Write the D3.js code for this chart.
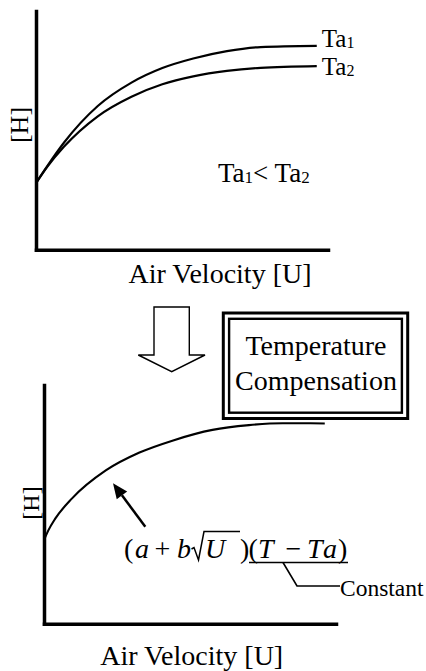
<!DOCTYPE html>
<html>
<head>
<meta charset="utf-8">
<script src="https://cdn.jsdelivr.net/npm/d3@7/dist/d3.min.js"></script>
<style>
  html, body { margin: 0; padding: 0; background: #fff; }
  svg { display: block; }
  text { font-family: "Liberation Serif", "Times New Roman", serif; fill: #000; }
</style>
</head>
<body>
<svg id="chart" width="426" height="671"></svg>
<script>
// Heat transfer [H] versus air velocity [U] at two ambient temperatures
const velocity = [0, 0.4, 1, 2.2, 3.4, 4.5, 5.6, 6.8, 8, 10];
const heatTa1  = [2.79, 3.5, 4.49, 6.02, 7.0, 7.61, 8.01, 8.32, 8.49, 8.54];
const heatTa2  = [2.79, 3.47, 4.32, 5.59, 6.41, 6.93, 7.26, 7.49, 7.62, 7.69];
const seriesNames = ["Ta1", "Ta2"];

// Single curve after temperature compensation
const compVelocity = [0, 0.15, 0.4, 1, 2.2, 3.4, 4.6, 6, 7.3, 8.5, 10];
const compHeat     = [3.5, 3.9, 4.4, 5.25, 6.42, 7.17, 7.68, 8.12, 8.32, 8.4, 8.39];

const axisLabelX = "Air Velocity [U]";
const axisLabelY = "[H]";
const boxLines = ["Temperature", "Compensation"];
const constantLabel = "Constant";

const svg = d3.select("#chart");

function drawAxes(g, x, y) {
  g.append("g")
    .attr("transform", `translate(${x.range()[0]},0)`)
    .call(d3.axisLeft(y).tickValues([]).tickSizeOuter(0))
    .select(".domain")
    .attr("stroke", "#000").attr("stroke-width", 3.5).attr("stroke-linecap", "square");
  g.append("g")
    .attr("transform", `translate(0,${y.range()[0]})`)
    .call(d3.axisBottom(x).tickValues([]).tickSizeOuter(0))
    .select(".domain")
    .attr("stroke", "#000").attr("stroke-width", 3.5).attr("stroke-linecap", "square");
}

// ---------- Upper panel ----------
const x1 = d3.scaleLinear().domain([0, 10.4]).range([36, 328]);
const y1 = d3.scaleLinear().domain([0, 10]).range([249.7, 11]);
const upper = svg.append("g");
drawAxes(upper, x1, y1);

const line1 = d3.line().x(d => x1(d[0])).y(d => y1(d[1])).curve(d3.curveMonotoneX);
[heatTa1, heatTa2].forEach(vals => {
  upper.append("path")
    .datum(velocity.map((u, i) => [u, vals[i]]))
    .attr("d", line1)
    .attr("fill", "none").attr("stroke", "#000").attr("stroke-width", 2.2);
});

// series labels with subscripts
const labelBaselines = [46.5, 74.5];
seriesNames.forEach((name, i) => {
  const t = upper.append("text")
    .attr("x", x1(velocity[velocity.length - 1]) + 5)
    .attr("y", labelBaselines[i])
    .attr("font-size", 25);
  t.append("tspan").text(name.slice(0, 2));
  t.append("tspan").attr("font-size", 16).attr("dy", 1.5).text(name.slice(2));
});

// relation between the two ambient temperatures
const rel = upper.append("text").attr("x", 218).attr("y", 182).attr("font-size", 27);
rel.append("tspan").text("Ta");
rel.append("tspan").attr("font-size", 17).attr("dy", 1).text("1");
rel.append("tspan").attr("dy", -1).text("< Ta");
rel.append("tspan").attr("font-size", 17).attr("dy", 1).text("2");

upper.append("text")
  .attr("transform", "translate(28,125) rotate(-90)")
  .attr("text-anchor", "middle").attr("font-size", 26)
  .text(axisLabelY);
upper.append("text")
  .attr("x", 220).attr("y", 283)
  .attr("text-anchor", "middle").attr("font-size", 28)
  .text(axisLabelX);

// ---------- Hollow downward arrow ----------
svg.append("polygon")
  .attr("points", [[154, 307], [189.3, 307], [189.3, 355], [205, 355], [171.7, 371.7], [138.3, 355], [154, 355]].join(" "))
  .attr("fill", "#fff").attr("stroke", "#000").attr("stroke-width", 1.4);

// ---------- Double-framed title box ----------
const frame = { x: 223.3, y: 313, w: 184.4, h: 105.5, inset: 5.8 };
svg.append("rect")
  .attr("x", frame.x).attr("y", frame.y).attr("width", frame.w).attr("height", frame.h)
  .attr("fill", "#fff").attr("stroke", "#000").attr("stroke-width", 3);
svg.append("rect")
  .attr("x", frame.x + frame.inset).attr("y", frame.y + frame.inset)
  .attr("width", frame.w - 2 * frame.inset).attr("height", frame.h - 2 * frame.inset)
  .attr("fill", "none").attr("stroke", "#000").attr("stroke-width", 2.4);
boxLines.forEach((s, i) => {
  svg.append("text")
    .attr("x", 316).attr("y", 355 + i * 35)
    .attr("text-anchor", "middle").attr("font-size", 28)
    .text(s);
});

// ---------- Lower panel ----------
const x2 = d3.scaleLinear().domain([0, 10.4]).range([44, 336]);
const y2 = d3.scaleLinear().domain([0, 10]).range([623.7, 385]);
const lower = svg.append("g");
drawAxes(lower, x2, y2);

const line2 = d3.line().x(d => x2(d[0])).y(d => y2(d[1])).curve(d3.curveMonotoneX);
lower.append("path")
  .datum(compVelocity.map((u, i) => [u, compHeat[i]]))
  .attr("d", line2)
  .attr("fill", "none").attr("stroke", "#000").attr("stroke-width", 2.1);

lower.append("text")
  .attr("transform", "translate(39,503) rotate(-90)")
  .attr("text-anchor", "middle").attr("font-size", 24)
  .text(axisLabelY);
lower.append("text")
  .attr("x", 191.7).attr("y", 665)
  .attr("text-anchor", "middle").attr("font-size", 28)
  .text(axisLabelX);

// pointer arrow toward the compensated curve
const tail = [145.3, 526.7], tip = [113, 483.3];
const adx = tip[0] - tail[0], ady = tip[1] - tail[1];
const alen = Math.hypot(adx, ady), ux = adx / alen, uy = ady / alen;
const headLen = 15, headHalf = 6.5;
const headBase = [tip[0] - ux * headLen, tip[1] - uy * headLen];
lower.append("line")
  .attr("x1", tail[0]).attr("y1", tail[1]).attr("x2", headBase[0]).attr("y2", headBase[1])
  .attr("stroke", "#000").attr("stroke-width", 2.5);
lower.append("polygon")
  .attr("points", [tip,
    [headBase[0] - uy * headHalf, headBase[1] + ux * headHalf],
    [headBase[0] + uy * headHalf, headBase[1] - ux * headHalf]].join(" "))
  .attr("fill", "#000");

// compensation formula (a + b√U)(T − Ta)
const formulaBaseline = 558;
const glyphs = [
  { s: "(", x: 124, it: false },
  { s: "a", x: 135, it: true },
  { s: "+", x: 154.5, it: false },
  { s: "b", x: 177, it: true },
  { s: "U", x: 205, it: true },
  { s: ")", x: 240, it: false },
  { s: "(", x: 248.5, it: false },
  { s: "T", x: 258, it: true },
  { s: "\u2212", x: 285.5, it: false },
  { s: "T", x: 307, it: true },
  { s: "a", x: 323, it: true },
  { s: ")", x: 338, it: false }
];
glyphs.forEach(g => {
  lower.append("text")
    .attr("x", g.x).attr("y", formulaBaseline)
    .attr("font-size", 28)
    .attr("font-style", g.it ? "italic" : "normal")
    .text(g.s);
});
// radical sign with its bar over U
lower.append("path")
  .attr("d", "M191.5,549 L194,547.5 L198.5,560 L204,531.5 L240,531.5")
  .attr("fill", "none").attr("stroke", "#000").attr("stroke-width", 1.5)
  .attr("stroke-linejoin", "miter");

// underline of (T − Ta) and leader to the "Constant" note
lower.append("line")
  .attr("x1", 249).attr("y1", 562.5).attr("x2", 348).attr("y2", 562.5)
  .attr("stroke", "#000").attr("stroke-width", 1.6);
lower.append("path")
  .attr("d", "M283,562.5 L297,586 L340,586")
  .attr("fill", "none").attr("stroke", "#000").attr("stroke-width", 1.6);
lower.append("text")
  .attr("x", 340).attr("y", 596)
  .attr("font-size", 23.5)
  .text(constantLabel);
</script>
</body>
</html>
